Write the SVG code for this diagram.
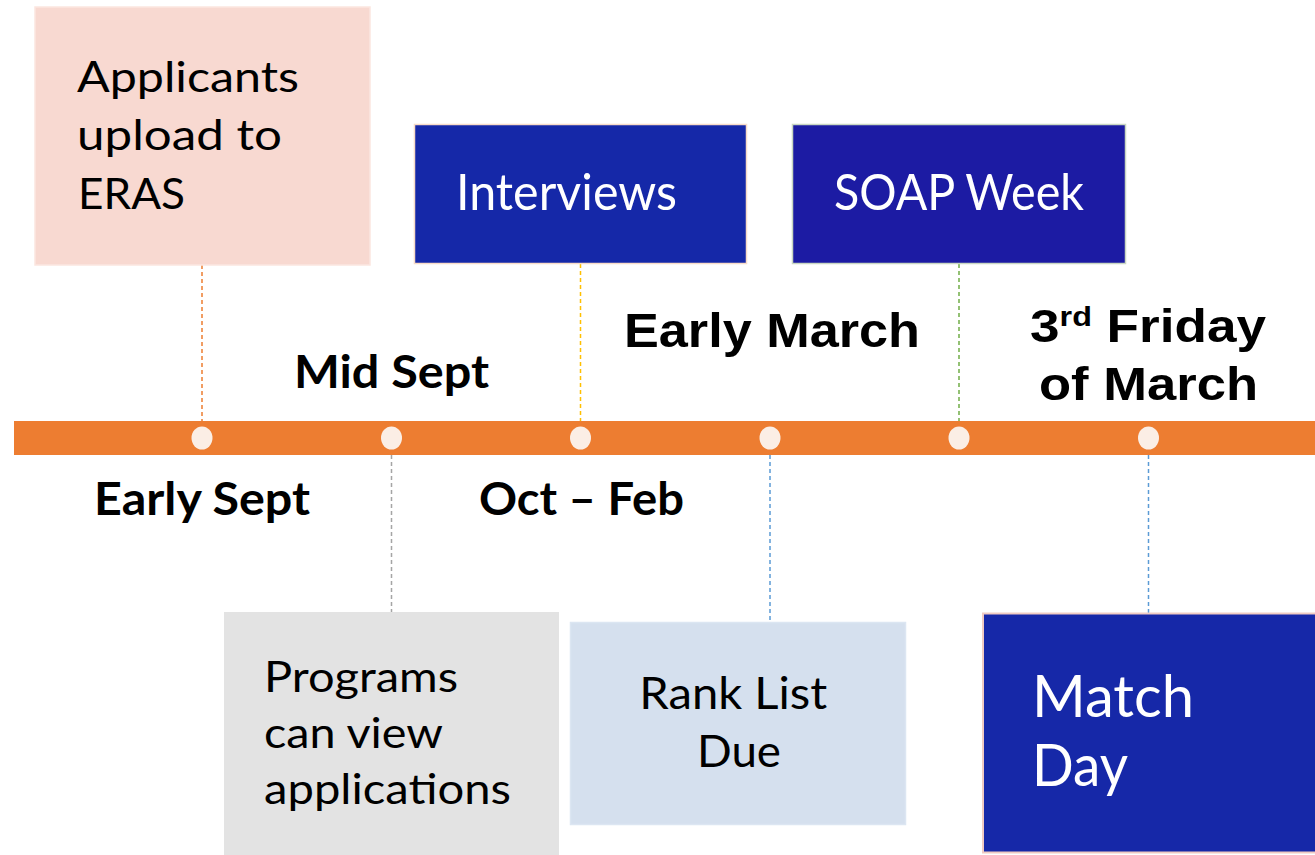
<svg xmlns="http://www.w3.org/2000/svg" width="1315" height="855" viewBox="0 0 1315 855">
<style>
.cal{font-family:Lato,"Open Sans","Noto Sans",sans-serif;}
.ari{font-family:"Liberation Sans",Arial,sans-serif;font-weight:700;}
.lbl{font-family:Lato,"Open Sans","Noto Sans",sans-serif;font-weight:700;font-size:45px;fill:#000;}
.dash{stroke-width:1.5;stroke-dasharray:4 3;fill:none;}
.dot{fill:#FBEEE5;}
</style>
<rect width="1315" height="855" fill="#FFFFFF"/>
<g id="connectors">
<line class="dash" x1="202" y1="265" x2="202" y2="421" stroke="#ED7D31"/>
<line class="dash" x1="580.5" y1="264" x2="580.5" y2="421" stroke="#FFC000"/>
<line class="dash" x1="959" y1="264" x2="959" y2="421" stroke="#70AD47"/>
<line class="dash" x1="391.5" y1="455" x2="391.5" y2="612" stroke="#A5A5A5"/>
<line class="dash" x1="770" y1="455" x2="770" y2="622" stroke="#5B9BD5"/>
<line class="dash" x1="1148.5" y1="455" x2="1148.5" y2="613" stroke="#5B9BD5"/>
</g>
<g id="timeline">
<rect x="14" y="421" width="1301" height="34" fill="#ED7D31"/>
<ellipse class="dot" cx="202" cy="438" rx="10.5" ry="11.5"/>
<ellipse class="dot" cx="391.5" cy="438" rx="10.5" ry="11.5"/>
<ellipse class="dot" cx="580.5" cy="438" rx="10.5" ry="11.5"/>
<ellipse class="dot" cx="770" cy="438" rx="10.5" ry="11.5"/>
<ellipse class="dot" cx="959" cy="438" rx="10.5" ry="11.5"/>
<ellipse class="dot" cx="1148.5" cy="438" rx="10.5" ry="11.5"/>
</g>
<g id="node-applicants">
<rect x="35" y="7" width="335" height="258" fill="#F8D9D1" stroke="#FBE6E0" stroke-width="1.5"/>
<text class="cal" font-size="43" fill="#000">
<tspan x="77" y="92" textLength="222" lengthAdjust="spacingAndGlyphs">Applicants</tspan>
<tspan x="77" y="150" textLength="205" lengthAdjust="spacingAndGlyphs">upload to</tspan>
<tspan x="78" y="209" textLength="107" lengthAdjust="spacingAndGlyphs">ERAS</tspan>
</text>
</g>
<g id="node-interviews">
<rect x="414.5" y="124.5" width="332" height="139" fill="#1528A8" stroke="#F8DCC8" stroke-width="1.5"/>
<text class="cal" font-size="50" fill="#FFFFFF" x="456" y="210" textLength="221" lengthAdjust="spacingAndGlyphs">Interviews</text>
</g>
<g id="node-soap">
<rect x="792.5" y="124.5" width="333" height="139" fill="#1C1BA3" stroke="#C9D7C2" stroke-width="1.5"/>
<text class="cal" font-size="50" fill="#FFFFFF" x="834" y="210" textLength="250" lengthAdjust="spacingAndGlyphs">SOAP Week</text>
</g>
<g id="label-mid-sept">
<text class="lbl" x="294" y="388" textLength="195" lengthAdjust="spacingAndGlyphs">Mid Sept</text>
</g>
<g id="label-early-sept">
<text class="lbl" x="94" y="515" textLength="216" lengthAdjust="spacingAndGlyphs">Early Sept</text>
</g>
<g id="label-oct-feb">
<text class="lbl" x="479" y="515" textLength="205" lengthAdjust="spacingAndGlyphs">Oct – Feb</text>
</g>
<g id="label-early-march">
<text class="ari" font-size="48" x="624" y="347" textLength="296" lengthAdjust="spacingAndGlyphs">Early March</text>
</g>
<g id="label-third-friday">
<text class="ari" font-size="46" x="1030" y="342" textLength="236" lengthAdjust="spacingAndGlyphs">3<tspan font-size="28" dy="-16">rd</tspan><tspan dy="16"> Friday</tspan></text>
<text class="ari" font-size="46" x="1039" y="400" textLength="219" lengthAdjust="spacingAndGlyphs">of March</text>
</g>
<g id="node-programs">
<rect x="224" y="612" width="335" height="245" fill="#E3E3E3"/>
<text class="cal" font-size="43" fill="#000">
<tspan x="264" y="692" textLength="194" lengthAdjust="spacingAndGlyphs">Programs</tspan>
<tspan x="264" y="748" textLength="178" lengthAdjust="spacingAndGlyphs">can view</tspan>
<tspan x="264" y="804" textLength="247" lengthAdjust="spacingAndGlyphs">applications</tspan>
</text>
</g>
<g id="node-rank">
<rect x="570.5" y="622.5" width="335" height="202" fill="#D5E0EE" stroke="#DCE6F2" stroke-width="1.5"/>
<text class="cal" font-size="45" fill="#000" text-anchor="middle">
<tspan x="739" y="709" textLength="188" lengthAdjust="spacingAndGlyphs">Rank List</tspan>
<tspan x="739" y="767" textLength="84" lengthAdjust="spacingAndGlyphs">Due</tspan>
</text>
</g>
<g id="node-match">
<rect x="983" y="613.5" width="333" height="239" fill="#1628A8" stroke="#F0CBC3" stroke-width="2"/>
<text class="cal" font-size="58" fill="#FFFFFF">
<tspan x="1032" y="717" textLength="162" lengthAdjust="spacingAndGlyphs">Match</tspan>
<tspan x="1032" y="786" textLength="96" lengthAdjust="spacingAndGlyphs">Day</tspan>
</text>
</g>
</svg>
